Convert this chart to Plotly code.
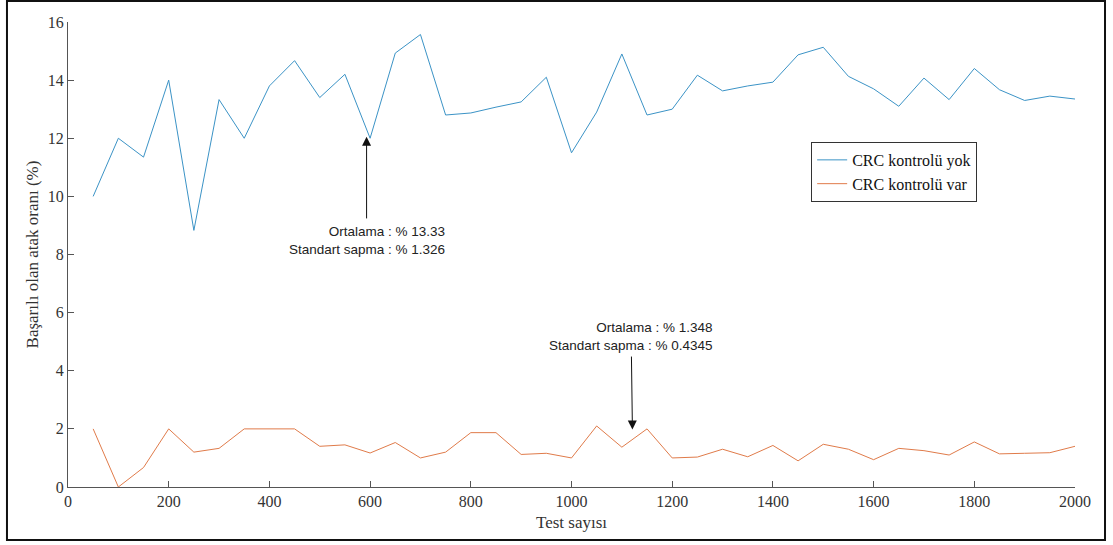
import plotly.graph_objects as go

test_counts = [50, 100, 150, 200, 250, 300, 350, 400, 450, 500,
               550, 600, 650, 700, 750, 800, 850, 900, 950, 1000,
               1050, 1100, 1150, 1200, 1250, 1300, 1350, 1400, 1450, 1500,
               1550, 1600, 1650, 1700, 1750, 1800, 1850, 1900, 1950, 2000]

crc_yok = [10.0, 12.0, 11.35, 14.0, 8.83, 13.33, 12.0, 13.8, 14.67, 13.4,
           14.2, 12.0, 14.93, 15.57, 12.8, 12.87, 13.07, 13.25, 14.1, 11.5,
           12.9, 14.9, 12.8, 13.0, 14.17, 13.63, 13.8, 13.93, 14.87, 15.13,
           14.13, 13.7, 13.1, 14.07, 13.33, 14.4, 13.67, 13.3, 13.45, 13.35]

crc_var = [2.0, 0.0, 0.67, 2.0, 1.2, 1.33, 2.0, 2.0, 2.0, 1.4,
           1.45, 1.17, 1.53, 1.0, 1.2, 1.87, 1.87, 1.12, 1.16, 1.0,
           2.1, 1.37, 2.0, 1.0, 1.03, 1.3, 1.04, 1.43, 0.9, 1.47,
           1.3, 0.94, 1.33, 1.25, 1.1, 1.55, 1.14, 1.16, 1.18, 1.4]

x_ticks = [0, 200, 400, 600, 800, 1000, 1200, 1400, 1600, 1800, 2000]
y_ticks = [0, 2, 4, 6, 8, 10, 12, 14, 16]

series_names = ["CRC kontrolü yok", "CRC kontrolü var"]
ann_text_1 = "Ortalama : % 13.33<br>Standart sapma : % 1.326"
ann_text_2 = "Ortalama : % 1.348<br>Standart sapma : % 0.4345"

BLUE = "#3b93c6"
ORANGE = "#e07b4a"
SERIF = "Liberation Serif, Times New Roman, serif"
SANS = "Liberation Sans, Arial, sans-serif"

fig = go.Figure()
fig.add_trace(go.Scatter(x=test_counts, y=crc_yok, mode="lines", name=series_names[0],
                         line=dict(color=BLUE, width=1)))
fig.add_trace(go.Scatter(x=test_counts, y=crc_var, mode="lines", name=series_names[1],
                         line=dict(color=ORANGE, width=1)))

axis_common = dict(showline=True, linecolor="#555555", linewidth=1, ticks="inside",
                   ticklen=6, tickcolor="#555555", showgrid=False, zeroline=False,
                   tickfont=dict(family=SERIF, size=16, color="#333333"),
                   mirror=False)

fig.update_xaxes(range=[0, 2000], tickvals=x_ticks,
                 title=dict(text="Test sayısı", font=dict(family=SERIF, size=17, color="#333333"),
                            standoff=6),
                 **axis_common)
fig.update_yaxes(range=[0, 16], tickvals=y_ticks,
                 title=dict(text="Başarılı olan atak oranı (%)",
                            font=dict(family=SERIF, size=17, color="#333333"), standoff=4),
                 **axis_common)

# annotation texts
fig.add_annotation(x=752, y=8.47, text=ann_text_1, showarrow=False, xanchor="right",
                   yanchor="middle", align="right",
                   font=dict(family=SANS, size=13.5, color="#222222"))
fig.add_annotation(x=1285, y=5.18, text=ann_text_2, showarrow=False, xanchor="right",
                   yanchor="middle", align="right",
                   font=dict(family=SANS, size=13.5, color="#222222"))
# arrows
fig.add_annotation(x=593, y=12.05, ax=593, ay=9.19, axref="x", ayref="y", xref="x", yref="y",
                   text="", showarrow=True, arrowhead=2, arrowsize=1.8, arrowwidth=1,
                   arrowcolor="#111111")
fig.add_annotation(x=1121, y=1.98, ax=1119, ay=4.54, axref="x", ayref="y", xref="x", yref="y",
                   text="", showarrow=True, arrowhead=2, arrowsize=1.8, arrowwidth=1,
                   arrowcolor="#111111")

# outer frame
fig.add_shape(type="rect", xref="paper", yref="paper", x0=-0.0606, x1=1.0298,
              y0=-0.114, y1=1.0452, line=dict(color="#111111", width=2))

fig.update_layout(
    width=1113, height=545,
    margin=dict(l=68, r=38, t=22, b=58),
    paper_bgcolor="white", plot_bgcolor="white",
    showlegend=True,
    legend=dict(x=0.738, y=0.742, xanchor="left", yanchor="top",
                bordercolor="#333333", borderwidth=1, bgcolor="white",
                font=dict(family=SERIF, size=16, color="#111111"),
                tracegroupgap=4, itemwidth=30),
)

fig.write_html("out.html")
